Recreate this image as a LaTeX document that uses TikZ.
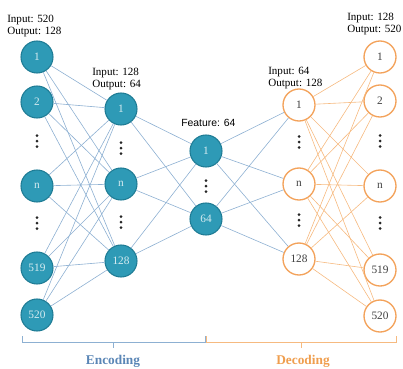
\documentclass[tikz,border=0pt]{standalone}
\usepackage{fontspec}
\setmainfont{Liberation Serif}
\newfontfamily\featfont{Liberation Sans}
\usetikzlibrary{positioning}
\definecolor{encblue}{HTML}{2E9AB6}
\definecolor{encedge}{HTML}{1F7C95}
\definecolor{encline}{HTML}{8DB0D2}
\definecolor{enctext}{HTML}{5A86B6}
\definecolor{decorange}{HTML}{F3A25A}
\definecolor{decline}{HTML}{F6BA80}
\definecolor{dectext}{HTML}{EF9E4E}
\tikzset{vdotcol/.pic={
  \fill[black!85] (0,-5.5) circle (1.5);
  \fill[black!85] (0,0) circle (1.5);
  \fill[black!85] (0,5.5) circle (1.5);}}

\begin{document}
\begin{tikzpicture}[x=0.75pt,y=-0.75pt,
  enc/.style={circle,draw=encedge,fill=encblue,line width=0.8pt,minimum size=24pt,inner sep=0pt,
    text=white!80!encblue,font=\fontsize{8.5}{10}\selectfont},
  dec/.style={circle,draw=decorange,fill=white,line width=1pt,minimum size=24pt,inner sep=0pt,
    text=black!75,font=\fontsize{8.5}{10}\selectfont},
  lbl/.style={anchor=west,align=left,inner sep=0pt,font=\fontsize{8.3}{9.6}\selectfont},
  encwire/.style={encline,line width=0.45pt},
  decwire/.style={decline,line width=0.45pt}]
\useasboundingbox (0,0) rectangle (403,368);

% encoder input layer
\node[enc] (a1) at (37,57) {1};
\node[enc] (a2) at (37,102) {2};
\pic (av1) at (37,141) {vdotcol};
\node[enc] (an) at (37,186) {n};
\pic (av2) at (37,223) {vdotcol};
\node[enc] (a519) at (37,268) {519};
\node[enc] (a520) at (37,315) {520};

% encoder hidden layer
\node[enc] (b1) at (121,109) {1};
\pic (bv1) at (121,148) {vdotcol};
\node[enc] (bn) at (121,184) {n};
\pic (bv2) at (121,222) {vdotcol};
\node[enc] (b128) at (121,261) {128};

% feature layer
\node[enc] (c1) at (206,151) {1};
\pic (cv) at (206,186) {vdotcol};
\node[enc] (c64) at (206,219) {64};

% decoder hidden layer
\node[dec] (d1) at (299,105) {1};
\pic (dv1) at (299,142) {vdotcol};
\node[dec] (dn) at (299,184) {n};
\pic (dv2) at (299,220) {vdotcol};
\node[dec] (d128) at (299,259) {128};

% decoder output layer
\node[dec] (e1) at (380,57) {1};
\node[dec] (e2) at (380,101) {2};
\pic (ev1) at (380,141) {vdotcol};
\node[dec] (en) at (380,186) {n};
\pic (ev2) at (380,223) {vdotcol};
\node[dec] (e519) at (380,270) {519};
\node[dec] (e520) at (380,316) {520};

% connections
\foreach \s in {a1,a2,an,a519,a520}
  \foreach \t in {b1,bn,b128}
    \draw[encwire] (\s) -- (\t);
\foreach \s in {b1,bn,b128}
  \foreach \t in {c1,c64}
    \draw[encwire] (\s) -- (\t);
\foreach \s in {c1,c64}
  \foreach \t in {d1,dn,d128}
    \draw[encwire] (\s) -- (\t);
\foreach \s in {d1,dn,d128}
  \foreach \t in {e1,e2,en,e519,e520}
    \draw[decwire] (\s) -- (\t);

% layer labels
\node[lbl] (la) at (7,26) {Input: 520\\Output: 128};
\node[lbl] (lb) at (92,79) {Input: 128\\Output: 64};
\node[lbl,font=\featfont\fontsize{7.8}{9}\selectfont] (lc) at (181,123) {Feature: 64};
\node[lbl] (ld) at (268,78) {Input: 64\\Output: 128};
\node[lbl] (le) at (347,24) {Input: 128\\Output: 520};

% brackets
\draw[encline,line width=0.6pt] (22,336) -- (22,342) -- (205,342) -- (205,336);
\draw[encline,line width=0.6pt] (113,342) -- (113,348);
\draw[decline,line width=0.6pt] (206,336) -- (206,342) -- (396,342) -- (396,336);
\draw[decline,line width=0.6pt] (301,342) -- (301,348);
\node[text=enctext,font=\bfseries\fontsize{10}{12}\selectfont] (enc) at (113,361) {Encoding};
\node[text=dectext,font=\bfseries\fontsize{10}{12}\selectfont] (dec) at (303,361) {Decoding};
\end{tikzpicture}
\end{document}
